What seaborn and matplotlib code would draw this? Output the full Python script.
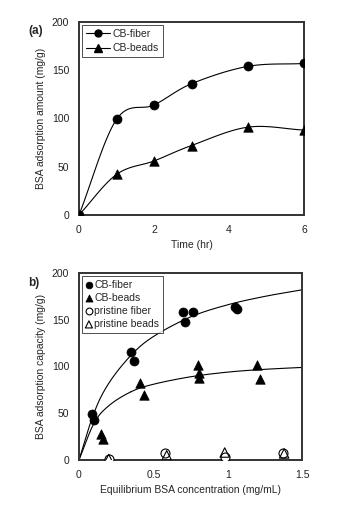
import numpy as np
import pandas as pd
import matplotlib
matplotlib.use("Agg")
import matplotlib.pyplot as plt
from matplotlib.lines import Line2D
import seaborn as sns

# (a) adsorption vs time
time_hr = [0, 1, 2, 3, 4.5, 6]
fiber_amt = [0, 99, 114, 136, 154, 157]
beads_amt = [0, 42, 56, 72, 91, 88]

# (b) isotherm points
cb_fiber_c = [0.09, 0.10, 0.35, 0.37, 0.70, 0.71, 0.77, 1.05, 1.06]
cb_fiber_q = [49, 43, 115, 106, 158, 148, 158, 164, 161]
cb_beads_c = [0.15, 0.16, 0.41, 0.44, 0.80, 0.81, 0.81, 1.20, 1.22]
cb_beads_q = [28, 22, 82, 70, 102, 93, 88, 102, 87]
pr_fiber_c = [0.20, 0.58, 0.98, 1.37]
pr_fiber_q = [1, 7, 3, 8]
pr_beads_c = [0.20, 0.59, 0.98, 1.38]
pr_beads_q = [1, 5, 8, 7]

# (b) fitted curves
fit_c = [0, 0.1, 0.2, 0.35, 0.5, 0.75, 1.0, 1.25, 1.5]
fit_fiber = [0, 50, 82, 112, 132, 153, 166, 175, 182]
fit_beads = [0, 39, 58, 73, 81, 89, 94, 97, 99]


def smooth(x, y, n=24):
    # catmull-rom, like excel's smoothed line
    x = np.asarray(x, float)
    y = np.asarray(y, float)
    px = np.concatenate([[2 * x[0] - x[1]], x, [2 * x[-1] - x[-2]]])
    py = np.concatenate([[2 * y[0] - y[1]], y, [2 * y[-1] - y[-2]]])
    xs, ys = [], []
    t = np.linspace(0, 1, n)
    for i in range(1, len(px) - 2):
        for p, out in ((px, xs), (py, ys)):
            p0, p1, p2, p3 = p[i - 1], p[i], p[i + 1], p[i + 2]
            out.extend(0.5 * (2 * p1 + (-p0 + p2) * t
                              + (2 * p0 - 5 * p1 + 4 * p2 - p3) * t ** 2
                              + (-p0 + 3 * p1 - 3 * p2 + p3) * t ** 3))
    return pd.DataFrame({"x": xs, "y": ys})


sns.set_style("white")
plt.rcParams["font.family"] = ["Liberation Sans", "DejaVu Sans"]
plt.rcParams["font.size"] = 7.5

fig = plt.figure(figsize=(3.42, 5.19), dpi=100)
ax1 = fig.add_axes([79 / 342, 1 - 215 / 519, 225 / 342, 193 / 519])
ax2 = fig.add_axes([79 / 342, 1 - 460 / 519, 223 / 342, 187 / 519])

# panel a
sns.lineplot(data=smooth(time_hr, fiber_amt), x="x", y="y", ax=ax1,
             color="black", lw=0.8, sort=False)
sns.lineplot(data=smooth(time_hr, beads_amt), x="x", y="y", ax=ax1,
             color="black", lw=0.8, sort=False)
sns.scatterplot(x=time_hr, y=fiber_amt, ax=ax1, marker="o", s=42,
                color="black", edgecolor="black", zorder=3)
sns.scatterplot(x=time_hr, y=beads_amt, ax=ax1, marker="^", s=46,
                color="black", edgecolor="black", zorder=3)
ax1.set_xlim(0, 6)
ax1.set_ylim(0, 200)
ax1.set_xticks([0, 2, 4, 6])
ax1.set_yticks([0, 50, 100, 150, 200])
ax1.set_xlabel("Time (hr)", fontsize=7.5, labelpad=4)
ax1.set_ylabel("BSA adsorption amount (mg/g)", fontsize=7.5)
h1 = [Line2D([], [], color="black", lw=0.8, marker="o", ms=5),
      Line2D([], [], color="black", lw=0.8, marker="^", ms=5.5)]
ax1.legend(h1, ["CB-fiber", "CB-beads"], loc="upper left", fontsize=7.5,
           frameon=True, fancybox=False, edgecolor="black",
           handlelength=2.3, handletextpad=0.3, borderaxespad=0.3,
           labelspacing=0.45, borderpad=0.35)
fig.text(28 / 342, 1 - 34 / 519, "(a)", fontsize=8.5, weight="bold")

# panel b
sns.lineplot(data=smooth(fit_c, fit_fiber), x="x", y="y", ax=ax2,
             color="black", lw=0.8, sort=False)
sns.lineplot(data=smooth(fit_c, fit_beads), x="x", y="y", ax=ax2,
             color="black", lw=0.8, sort=False)
sns.scatterplot(x=cb_fiber_c, y=cb_fiber_q, ax=ax2, marker="o", s=42,
                color="black", edgecolor="black", label="CB-fiber", zorder=3)
sns.scatterplot(x=cb_beads_c, y=cb_beads_q, ax=ax2, marker="^", s=46,
                color="black", edgecolor="black", label="CB-beads", zorder=3)
sns.scatterplot(x=pr_fiber_c, y=pr_fiber_q, ax=ax2, marker="o", s=42,
                facecolor="white", edgecolor="black", linewidth=0.8,
                label="pristine fiber", zorder=3)
sns.scatterplot(x=pr_beads_c, y=pr_beads_q, ax=ax2, marker="^", s=46,
                facecolor="none", edgecolor="black", linewidth=0.8,
                label="pristine beads", zorder=4)
ax2.set_xlim(0, 1.5)
ax2.set_ylim(0, 200)
ax2.set_xticks([0, 0.5, 1, 1.5])
ax2.set_xticklabels(["0", "0.5", "1", "1.5"])
ax2.set_yticks([0, 50, 100, 150, 200])
ax2.set_xlabel("Equilibrium BSA concentration (mg/mL)", fontsize=7.5,
               labelpad=4)
ax2.set_ylabel("BSA adsorption capacity (mg/g)", fontsize=7.5)
ax2.legend(loc="upper left", fontsize=7.5, frameon=True, fancybox=False,
           edgecolor="black", handlelength=0.6, handletextpad=0.2,
           markerscale=0.75, borderaxespad=0.3, labelspacing=0.3,
           borderpad=0.35)
fig.text(28 / 342, 1 - 286 / 519, "b)", fontsize=8.5, weight="bold")

for ax in (ax1, ax2):
    ax.tick_params(length=0, pad=7, labelsize=7.5, colors="#222222")
    for sp in ax.spines.values():
        sp.set_visible(True)
        sp.set_color("#333333")
        sp.set_linewidth(1.4)
    ax.get_legend().get_frame().set_linewidth(0.6)

fig.savefig("out.png", dpi=100)
